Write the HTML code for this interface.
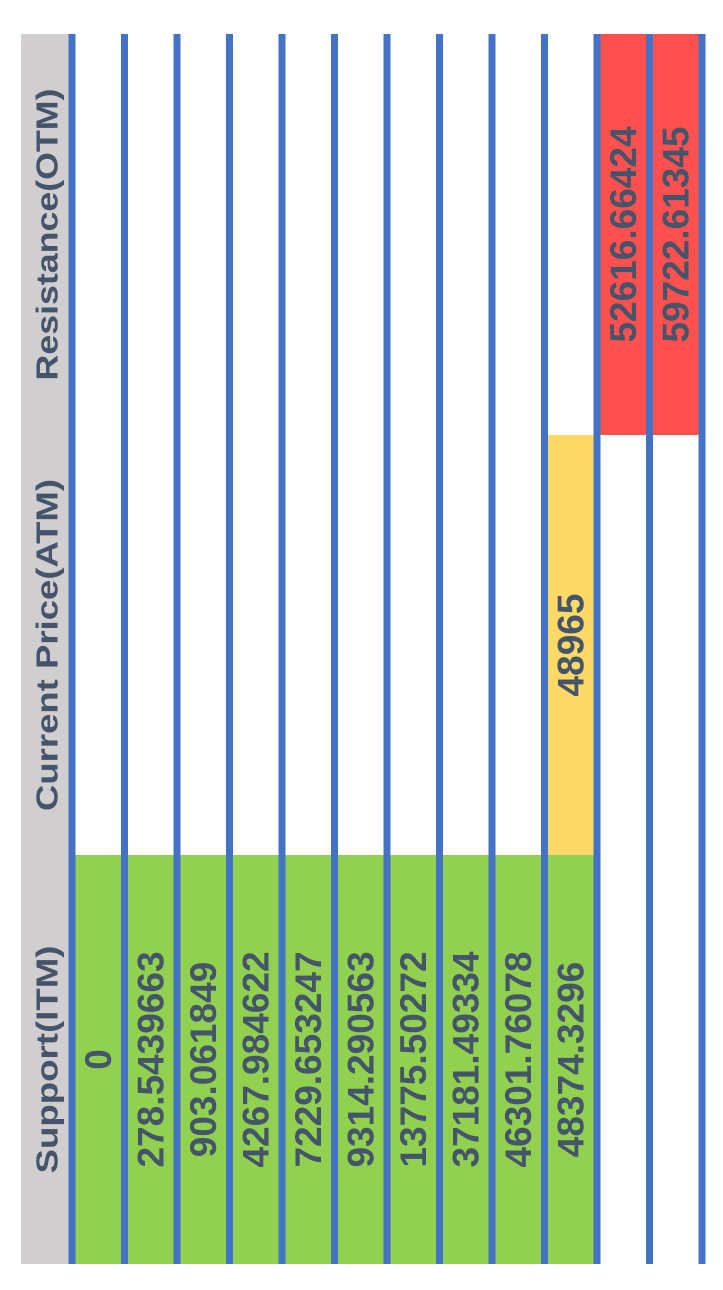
<!DOCTYPE html>
<html><head><meta charset="utf-8"><style>
html,body{margin:0;padding:0;background:#fff;width:723px;height:1290px;overflow:hidden}
svg{display:block}
text{font-family:"Liberation Sans",sans-serif;font-weight:bold;fill:#44546a}
</style></head><body>
<svg id="t" width="723" height="1290" viewBox="0 0 723 1290" xmlns="http://www.w3.org/2000/svg"></svg>
<script>
const headers=["Support(ITM)","Current Price(ATM)","Resistance(OTM)"];
const support=["0","278.5439663","903.061849","4267.984622","7229.653247","9314.290563","13775.50272","37181.49334","46301.76078","48374.3296","",""];
const current=["","","","","","","","","","48965","",""];
const resistance=["","","","","","","","","","","52616.66424","59722.61345"];
const NS="http://www.w3.org/2000/svg";
const svg=document.getElementById('t');
const colSpan=[[855,1264],[435,855],[34,435]];
const x0=72, step=52.5, nRows=12;
function lineX(i){return x0+i*step;}
function mk(tag,attrs){const e=document.createElementNS(NS,tag);for(const k in attrs)e.setAttribute(k,attrs[k]);svg.appendChild(e);return e;}
// header background
let hb=mk('rect',{x:21,y:34,width:51,height:1230,fill:'#d0cece'});


// cell fills
const cols=[support,current,resistance];
const fills=['#92d050','#ffd966','#ff5050'];
const names=['support','current','resistance'];
for(let c=0;c<3;c++){
  for(let r=0;r<nRows;r++){
    if(cols[c][r]==="")continue;
    const e=mk('rect',{x:lineX(r),y:colSpan[c][0],width:step,height:colSpan[c][1]-colSpan[c][0],fill:fills[c]});
    
    
  }
}
// blue lines
for(let i=0;i<=nRows;i++){
  const e=mk('rect',{x:lineX(i)-3.5,y:34,width:7,height:1230,fill:'#4472c4'});
  
  
}
// headers
const hLen=[228,332,292];
for(let c=0;c<3;c++){
  const cy=(colSpan[c][0]+colSpan[c][1])/2;
  const t=mk('text',{x:0,y:0,'text-anchor':'middle','dominant-baseline':'central','font-size':31,textLength:hLen[c],lengthAdjust:'spacingAndGlyphs',transform:`translate(47,${cy}) rotate(-90)`});
  t.textContent=headers[c];
  
  
}
// values
for(let c=0;c<3;c++){
  const cy=(colSpan[c][0]+colSpan[c][1])/2;
  for(let r=0;r<nRows;r++){
    const v=cols[c][r]; if(v==="")continue;
    const cx=lineX(r)+step/2;
    const t=mk('text',{x:0,y:0,'text-anchor':'middle','dominant-baseline':'central','font-size':37,transform:`translate(${cx},${cy}) rotate(-90)`});
    t.textContent=v;
    
    
  }
}
</script>
</body></html>
